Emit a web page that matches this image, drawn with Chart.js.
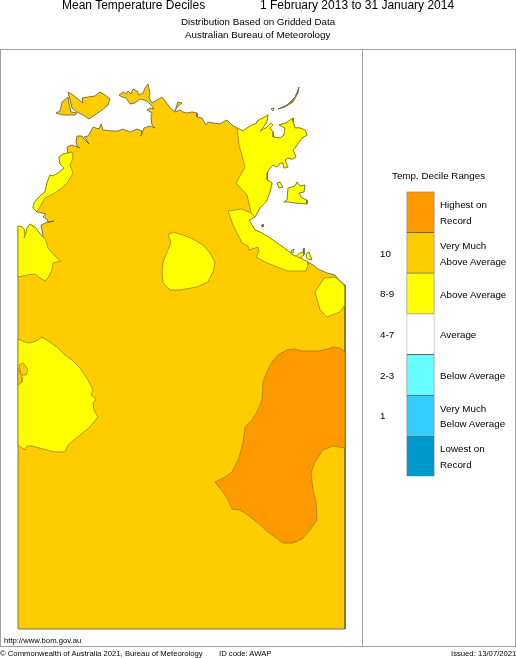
<!DOCTYPE html>
<html>
<head>
<meta charset="utf-8">
<title>Mean Temperature Deciles</title>
<script src="https://cdn.jsdelivr.net/npm/chart.js@4"></script>
<style>
  html, body { margin: 0; padding: 0; background: #fff; }
  #page { position: relative; width: 516px; height: 658px; overflow: hidden; font-family: "Liberation Sans", Arial, sans-serif; color: #000; }
  #page canvas { position: absolute; }
  .t { position: absolute; white-space: nowrap; font-size: 9.8px; line-height: 12px; }
  .head { font-size: 12px; line-height: 14px; }
  .foot { font-size: 7.7px; }
  .box { position: absolute; background: #a0a0a0; }
</style>
</head>
<body>
<div id="page">
  <div class="box" style="left:0;top:49px;width:516px;height:1px"></div>
  <div class="box" style="left:0;top:646px;width:516px;height:1px"></div>
  <div class="box" style="left:0;top:49px;width:1px;height:598px"></div>
  <div class="box" style="left:515px;top:49px;width:1px;height:598px"></div>
  <div class="box" style="left:362px;top:49px;width:1px;height:598px"></div>
  <canvas id="map" width="516" height="658" style="left:0;top:0"></canvas>
  <canvas id="key" width="29" height="286" style="left:406px;top:191px"></canvas>
</div>
<script>
// decile bands, lowest first
const bandNames = ['Lowest on Record', 'Very Much Below Average', 'Below Average', 'Average', 'Above Average', 'Very Much Above Average', 'Highest on Record'];
const bandColors = ['#0099CC', '#33CCFF', '#66FFFF', '#FFFFFF', '#FFFF00', '#FFCC00', '#FF9900'];
const bandShare = [1, 1, 1, 1, 1, 1, 1];

// outlines are [east, north] in map units from the SW corner of the NT
const mainland = [
  [0,403],[4,402],[6,400],[7,394],[6,391],[8,396],[9,401],[12,405],[15,403],[18,401],[20,398],[23,394],[25,392],
  [24,399],[23,404],[27,406],[36,408],[30,407],[29,410],[25,412],[28,415],[24,416],[19,417],[15,421],[16,426],
  [21,432],[23,434],[27,437],[29,446],[32,454],[35,453],[40,456],[46,461],[42,465],[41,472],[45,475],[50,476],
  [49,482],[54,484],[62,481],[59,483],[58,487],[59,493],[64,493],[66,490],[71,485],[68,490],[66,492],[70,493],
  [73,498],[75,502],[81,500],[83,505],[85,499],[94,498],[100,498],[105,500],[112,497],[119,500],[124,498],[123,493],
  [126,501],[132,503],[137,501],[134,504],[133,511],[134,516],[129,519],[132,521],[136,520],[133,524],[129,528],
  [122,530],[117,526],[112,525],[108,531],[104,532],[101,534],[105,537],[108,535],[110,538],[113,535],[115,540],
  [119,538],[121,534],[125,536],[127,541],[130,545],[132,536],[131,531],[134,526],[139,529],[144,532],[148,527],
  [152,521],[157,517],[162,519],[165,517],[169,516],[174,517],[179,516],[179,512],[184,511],[188,504],[190,507],
  [195,506],[202,505],[205,507],[209,509],[214,504],[219,501],[225,498],[229,501],[234,504],[239,506],[239,508],
  [245,511],[250,514],[249,508],[245,501],[242,498],[248,501],[253,506],[255,504],[252,501],[255,497],[255,492],
  [262,491],[266,494],[267,501],[261,504],[268,506],[272,509],[275,511],[275,507],[277,501],[282,501],[287,499],
  [289,494],[284,491],[281,487],[277,481],[275,479],[278,472],[274,470],[270,471],[267,469],[268,466],[270,462],
  [266,461],[265,466],[262,466],[259,462],[255,464],[252,461],[249,456],[249,449],[254,446],[252,437],[248,427],
  [242,421],[237,412],[231,409],[234,404],[237,399],[244,396],[252,391],[262,384],[269,379],[275,374],[282,371],
  [290,367],[295,364],[300,360],[309,356],[317,354],[321,349],[327,344],[327,0],[0,0]
];
const bathurst = [[38,516],[42,518],[44,527],[50,532],[51,526],[53,517],[59,516],[57,514],[45,514]];
const melville = [[50,537],[55,534],[60,530],[65,526],[64,531],[70,532],[77,533],[82,537],[87,534],[92,530],[90,524],[84,519],[77,514],[71,510],[65,514],[59,517],[54,521],[52,529]];
const croker = [[157,518],[159,522],[164,526],[160,527]];
const wesselArc = [[260,520],[269,524],[277,532],[281,542],[280,536],[275,527],[267,522]];

const wesselSmall = [[253,520],[256,521],[255,518]];
const groote = [[266,427],[269,429],[270,441],[277,443],[279,447],[282,443],[287,444],[286,437],[281,436],[284,431],[289,429],[289,425],[277,426],[270,427]];
const bickerton = [[259,446],[262,447],[265,442],[261,441]];
const tinyIsland = [[243,403],[245,405],[245,402]];
const pellewA = [[273,378],[276,380],[275,376],[273,376]];
const pellewB = [[277,372],[282,376],[285,377],[286,381],[286,374],[282,371],[278,371]];
const pellewC = [[289,376],[291,377],[294,369],[290,370],[288,372]];

const yellowKimberley = [
  [0,403],[4,402],[6,400],[7,394],[6,391],[8,396],[9,401],[12,405],[15,403],[18,401],[20,398],[23,394],[25,392],
  [27,391],[30,381],[37,373],[43,368],[35,366],[34,359],[30,351],[27,348],[22,351],[17,355],[9,354],[0,352]
];
const yellowAnson = [
  [19,417],[15,421],[16,426],[21,432],[23,434],[27,437],[29,446],[32,454],[35,453],[40,456],[46,461],[42,465],
  [41,472],[45,475],[50,476],[54,477],[55,471],[52,464],[55,456],[50,447],[44,441],[35,435],[27,431],[22,422]
];
const yellowInland = [[150,394],[155,397],[165,394],[175,390],[185,384],[192,376],[197,367],[195,357],[190,347],[179,342],[162,339],[152,339],[145,346],[144,357],[145,367],[149,377],[153,387]];
const yellowArnhem = [
  [219,501],[225,498],[229,501],[234,504],[239,506],[239,508],[245,511],[250,514],[249,508],[245,501],[242,498],
  [248,501],[253,506],[255,504],[252,501],[255,497],[255,492],[262,491],[266,494],[267,501],[261,504],[268,506],
  [272,509],[275,511],[275,507],[277,501],[282,501],[287,499],[289,494],[284,491],[281,487],[277,481],[275,479],
  [278,472],[274,470],[270,471],[267,469],[268,466],[270,462],[266,461],[265,466],[262,466],[259,462],[255,464],
  [252,461],[249,456],[249,449],[254,446],[252,437],[248,427],[242,421],[237,412],[233,416],[229,434],[218,446],
  [227,462],[221,484]
];
const yellowGulf = [
  [210,418],[224,420],[233,416],[237,412],[231,409],[234,404],[237,399],[244,396],[252,391],[262,384],[269,379],
  [275,374],[282,371],[290,367],[290,364],[288,358],[269,358],[249,366],[238,372],[241,378],[240,382],[231,379],
  [230,383],[224,386],[215,404]
];
const yellowBorder = [[306,351],[317,352],[325,345],[327,342],[327,324],[322,317],[309,312],[302,319],[297,337]];
const yellowBarkly = [
  [0,290],[7,287],[12,286],[18,288],[24,292],[32,287],[40,281],[47,274],[54,269],[62,261],[70,249],[75,239],
  [73,234],[78,230],[75,226],[76,219],[80,212],[72,202],[62,194],[50,184],[47,177],[37,177],[25,180],[14,183],
  [9,183],[7,179],[0,184]
];
const holeA = [[1,264],[5,266],[10,260],[8,254],[3,254]];
const holeB = [[0,261],[4,252],[4,247],[0,244]];
const highestRecord = [
  [327,277],[322,281],[315,282],[310,280],[300,278],[284,278],[277,280],[269,279],[260,274],[254,267],[249,257],
  [245,247],[244,229],[240,219],[234,209],[227,202],[225,186],[221,171],[214,157],[207,152],[197,147],[205,137],
  [210,129],[214,120],[222,119],[230,114],[240,106],[250,97],[265,86],[275,86],[284,90],[292,99],[299,109],
  [298,126],[295,139],[293,156],[297,167],[305,179],[315,183],[327,181]
];

const COAST = '#5a5a44', CONTOUR = '#9c8200';
const veryHigh = bandColors[5], above = bandColors[4], highest = bandColors[6];

// painted in this order
const layers = [
  [mainland, veryHigh, COAST], [bathurst, veryHigh, COAST], [melville, veryHigh, COAST], [croker, veryHigh, COAST],
  [wesselArc, '#c79a1a', COAST], [wesselSmall, above, COAST], [groote, above, COAST], [bickerton, above, COAST],
  [tinyIsland, veryHigh, COAST], [pellewA, above, COAST], [pellewB, above, COAST], [pellewC, above, COAST],
  [yellowKimberley, above, CONTOUR], [yellowAnson, above, CONTOUR], [yellowInland, above, CONTOUR],
  [yellowArnhem, above, CONTOUR], [yellowGulf, above, CONTOUR], [yellowBorder, above, CONTOUR],
  [yellowBarkly, above, CONTOUR], [holeA, veryHigh, CONTOUR], [holeB, veryHigh, CONTOUR],
  [highestRecord, highest, CONTOUR]
];

new Chart(document.getElementById('map').getContext('2d'), {
  type: 'scatter',
  data: {
    datasets: layers.map(function (layer, i) {
      return {
        data: layer[0].concat([layer[0][0]]).map(function (p) { return { x: p[0], y: p[1] }; }),
        showLine: true,
        fill: 'shape',
        backgroundColor: layer[1],
        borderColor: layer[2],
        borderWidth: 0.8,
        pointRadius: 0,
        tension: 0,
        clip: false,
        order: layers.length - i
      };
    })
  },
  options: {
    responsive: false,
    animation: false,
    layout: { padding: 0 },
    plugins: { legend: { display: false }, tooltip: { enabled: false }, title: { display: false } },
    scales: {
      x: { display: false, min: -18, max: 498 },
      y: { display: false, min: -29, max: 629 }
    }
  }
});

new Chart(document.getElementById('key').getContext('2d'), {
  type: 'bar',
  data: {
    labels: ['Temp. Decile Ranges'],
    datasets: bandNames.map(function (name, i) {
      return {
        label: name,
        data: [bandShare[i]],
        backgroundColor: bandColors[i],
        borderColor: i === 3 ? '#999' : '#666',
        borderWidth: 1,
        barPercentage: 1,
        categoryPercentage: 1
      };
    })
  },
  options: {
    responsive: false,
    animation: false,
    layout: { padding: 0.5 },
    plugins: { legend: { display: false }, tooltip: { enabled: false } },
    scales: {
      x: { display: false, stacked: true },
      y: { display: false, stacked: true, min: 0, max: 7 }
    }
  }
});

// text
const page = document.getElementById('page');
function addText(str, x, y, cls) {
  const el = document.createElement('div');
  el.className = 't' + (cls ? ' ' + cls : '');
  el.textContent = str;
  el.style.left = x + 'px';
  el.style.top = y + 'px';
  page.appendChild(el);
}
addText('Mean Temperature Deciles', 62, -2, 'head');
addText('1 February 2013 to 31 January 2014', 260, -2, 'head');
addText('Distribution Based on Gridded Data', 181, 16);
addText('Australian Bureau of Meteorology', 185, 29);
addText('Temp. Decile Ranges', 392, 170);

const deciles = ['10', '8-9', '4-7', '2-3', '1'];
const decileRows = [248, 288, 329, 370, 410];
deciles.forEach(function (d, i) { addText(d, 380, decileRows[i]); });

const keyLines = ['Highest on', 'Record', 'Very Much', 'Above Average', 'Above Average', 'Average', 'Below Average', 'Very Much', 'Below Average', 'Lowest on', 'Record'];
const keyRows = [199, 215, 240, 256, 289, 329, 370, 403, 418, 443, 459];
keyLines.forEach(function (s, i) { addText(s, 440, keyRows[i]); });

addText('http://www.bom.gov.au', 4, 635, 'foot');
addText('© Commonwealth of Australia 2021, Bureau of Meteorology', 0, 648, 'foot');
addText('ID code: AWAP', 219, 648, 'foot');
addText('Issued: 13/07/2021', 451, 648, 'foot');
</script>
</body>
</html>
